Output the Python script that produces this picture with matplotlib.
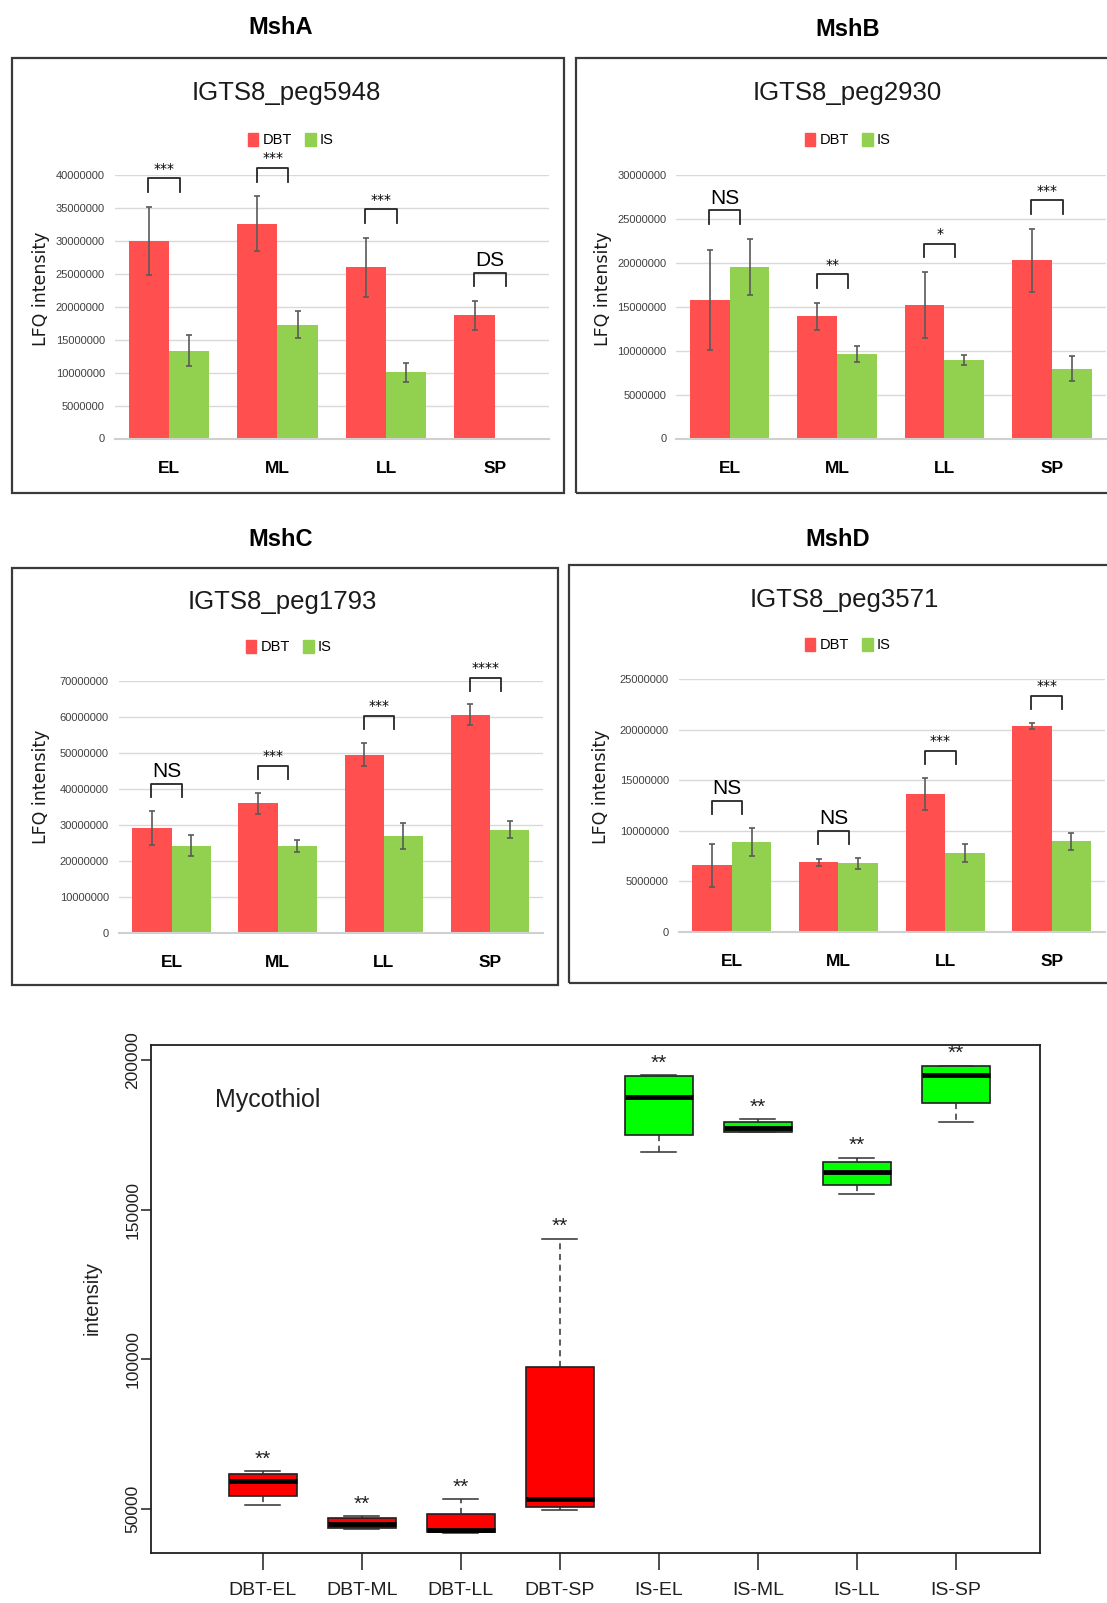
import numpy as np
import matplotlib.pyplot as plt
from matplotlib import font_manager
from matplotlib.patches import Rectangle, Patch
from matplotlib.ticker import FuncFormatter

names = {f.name for f in font_manager.fontManager.ttflist}
narrow = 'Liberation Sans Narrow' if 'Liberation Sans Narrow' in names else 'Liberation Sans'
plt.rcParams['font.family'] = ['Liberation Sans', 'DejaVu Sans']

W, H = 1107, 1603
RED = '#FF4F4F'
GREEN = '#92D050'

stages = ['EL', 'ML', 'LL', 'SP']

# MshA - IGTS8_peg5948
mshA_dbt = [30.0e6, 32.6e6, 26.0e6, 18.7e6]
mshA_dbt_err = [5.2e6, 4.2e6, 4.5e6, 2.2e6]
mshA_is = [13.3e6, 17.3e6, 10.05e6, 0]
mshA_is_err = [2.35e6, 2.1e6, 1.45e6, np.nan]
mshA_sig = ['***', '***', '***', 'DS']

# MshB - IGTS8_peg2930
mshB_dbt = [15.8e6, 13.93e6, 15.19e6, 20.29e6]
mshB_dbt_err = [5.7e6, 1.55e6, 3.8e6, 3.6e6]
mshB_is = [19.57e6, 9.63e6, 8.91e6, 7.96e6]
mshB_is_err = [3.2e6, 0.95e6, 0.55e6, 1.45e6]
mshB_sig = ['NS', '**', '*', '***']

# MshC - IGTS8_peg1793
mshC_dbt = [29.28e6, 36.0e6, 49.54e6, 60.68e6]
mshC_dbt_err = [4.7e6, 2.85e6, 3.2e6, 2.8e6]
mshC_is = [24.22e6, 24.22e6, 27.07e6, 28.73e6]
mshC_is_err = [2.95e6, 1.7e6, 3.6e6, 2.3e6]
mshC_sig = ['NS', '***', '***', '****']

# MshD - IGTS8_peg3571
mshD_dbt = [6.58e6, 6.875e6, 13.65e6, 20.36e6]
mshD_dbt_err = [2.1e6, 0.37e6, 1.6e6, 0.27e6]
mshD_is = [8.88e6, 6.78e6, 7.83e6, 8.95e6]
mshD_is_err = [1.4e6, 0.53e6, 0.9e6, 0.88e6]
mshD_sig = ['NS', 'NS', '***', '***']

# Mycothiol boxplot
box_groups = ['DBT-EL', 'DBT-ML', 'DBT-LL', 'DBT-SP', 'IS-EL', 'IS-ML', 'IS-LL', 'IS-SP']
box_whislo = [51100, 43300, 41840, 49630, 169080, 175880, 155350, 179220]
box_q1 = [54330, 43570, 42090, 50740, 175020, 175880, 158200, 185650]
box_med = [59260, 45050, 42830, 53340, 187760, 177250, 162650, 194930]
box_q3 = [61600, 47030, 48390, 97360, 194680, 179100, 165870, 198020]
box_whishi = [62490, 47530, 53210, 140150, 194930, 180210, 167230, 198140]
box_sig = ['**', '**', '**', '**', '**', '**', '**', '**']

fig = plt.figure(figsize=(W / 100, H / 100), dpi=100)


def rect(l, t, r, b):
    return [l / W, 1 - b / H, (r - l) / W, (b - t) / H]


def bar_panel(title, title_xy, subtitle, sub_xy, leg_xy, frame, ax_px, ymax, ystep,
              dbt, dbt_err, iss, iss_err, sig, ylab_xy):
    fl, ft, fr, fb = frame
    fig.add_artist(Rectangle((fl / W, 1 - fb / H), (fr - fl) / W, (fb - ft) / H,
                             transform=fig.transFigure, fill=False, ec='#3a3a3a', lw=1.6))
    fig.text(title_xy[0] / W, 1 - title_xy[1] / H, title, ha='center', va='center',
             fontsize=17, fontweight='bold')
    fig.text(sub_xy[0] / W, 1 - sub_xy[1] / H, subtitle, ha='center', va='center',
             fontsize=18.5, family=narrow, color='#1a1a1a')
    fig.text(ylab_xy[0] / W, 1 - ylab_xy[1] / H, 'LFQ intensity', ha='center', va='center',
             rotation=90, fontsize=12.5, family='DejaVu Sans', color='#1a1a1a')

    ax = fig.add_axes(rect(*ax_px))
    x = np.arange(len(stages))
    w = 0.37
    ekw = dict(ecolor='#5a5a5a', elinewidth=1.2, capsize=2.5, capthick=1.2)
    ax.bar(x - w / 2, dbt, w, color=RED, yerr=dbt_err, error_kw=ekw, label='DBT')
    ax.bar(x + w / 2, iss, w, color=GREEN, yerr=iss_err, error_kw=ekw, label='IS')

    ax.set_xlim(-0.5, len(stages) - 0.5)
    ax.set_ylim(0, ymax)
    ax.set_yticks(np.arange(0, ymax + 1, ystep))
    ax.yaxis.set_major_formatter(FuncFormatter(lambda v, p: f'{int(v)}'))
    ax.yaxis.grid(True, color='#D9D9D9', lw=1)
    ax.set_axisbelow(True)
    for s in ['top', 'right', 'left']:
        ax.spines[s].set_visible(False)
    ax.spines['bottom'].set_color('#D0D0D0')
    ax.spines['bottom'].set_linewidth(1.5)
    ax.tick_params(axis='y', length=0, pad=7, labelsize=8, labelcolor='#404040')
    ax.tick_params(axis='x', length=0, pad=16)
    ax.set_xticks(x)
    ax.set_xticklabels(stages, fontsize=12.5, fontweight='bold', family=narrow)

    tops = np.nanmax(np.vstack([np.array(dbt) + np.array(dbt_err),
                                np.array(iss) + np.array(iss_err)]), axis=0)
    for i, s in enumerate(sig):
        y0 = tops[i] + 0.055 * ymax
        y1 = y0 + 0.052 * ymax
        ax.plot([i - 0.19, i - 0.19, i + 0.10, i + 0.10], [y0, y1, y1, y0],
                color='#262626', lw=1.3, clip_on=False)
        star = '*' in s
        ax.annotate(s, (i - 0.045, y1), xytext=(0, 2), textcoords='offset points',
                    ha='center', va='bottom', fontsize=10 if star else 15,
                    family='DejaVu Sans' if star else 'Liberation Sans',
                    annotation_clip=False)

    fig.legend([Patch(color=RED), Patch(color=GREEN)], ['DBT', 'IS'], loc='center',
               bbox_to_anchor=(leg_xy[0] / W, 1 - leg_xy[1] / H), ncol=2, frameon=False,
               handlelength=0.7, handleheight=1.0, handletextpad=0.3, columnspacing=0.9,
               prop=dict(family=narrow, size=10.5))
    return ax


bar_panel('MshA', (281, 27), 'IGTS8_peg5948', (286, 93), (291, 140),
          (12, 58, 564, 493), (114.5, 175, 549, 438.5), 40e6, 5e6,
          mshA_dbt, mshA_dbt_err, mshA_is, mshA_is_err, mshA_sig, (41, 289))
bar_panel('MshB', (848, 29), 'IGTS8_peg2930', (847, 93), (848, 140),
          (575.5, 58, 1112, 493), (676, 175, 1105.5, 438.5), 30e6, 5e6,
          mshB_dbt, mshB_dbt_err, mshB_is, mshB_is_err, mshB_sig, (603, 289))
bar_panel('MshC', (281, 540), 'IGTS8_peg1793', (282, 602), (289, 647),
          (12, 568, 558, 985), (118.6, 681, 543, 933), 70e6, 10e6,
          mshC_dbt, mshC_dbt_err, mshC_is, mshC_is_err, mshC_sig, (41, 787))
bar_panel('MshD', (838, 540), 'IGTS8_peg3571', (844, 600), (848, 645),
          (569, 565, 1112, 983), (678.5, 679, 1105, 932), 25e6, 5e6,
          mshD_dbt, mshD_dbt_err, mshD_is, mshD_is_err, mshD_sig, (601, 787))

# bottom boxplot
ax = fig.add_axes(rect(151.3, 1044.7, 1039.6, 1552.7))
stats = [dict(label=g, whislo=a, q1=b, med=c, q3=d, whishi=e, fliers=[])
         for g, a, b, c, d, e in zip(box_groups, box_whislo, box_q1, box_med, box_q3, box_whishi)]
pos = np.arange(1, len(box_groups) + 1)
bp = ax.bxp(stats, positions=pos, widths=0.69, patch_artist=True, showfliers=False,
            capwidths=0.35,
            boxprops=dict(edgecolor='#202020', lw=1.2),
            medianprops=dict(color='black', lw=3.5),
            whiskerprops=dict(ls=(0, (4, 3)), color='#303030', lw=1.1),
            capprops=dict(color='#303030', lw=1.1))
for patch, g in zip(bp['boxes'], box_groups):
    patch.set_facecolor('#FF0000' if g.startswith('DBT') else '#00FF00')

ax.set_xlim(-0.125, 8.846)
ax.set_ylim(35300, 205100)
ax.set_yticks([50000, 100000, 150000, 200000])
ax.set_yticklabels(['50000', '100000', '150000', '200000'], rotation=90, va='center',
                   fontsize=12.5, color='#202020')
ax.set_xticks(pos)
ax.set_xticklabels(box_groups, fontsize=14, family=narrow, color='#202020')
for s in ax.spines.values():
    s.set_color('#202020')
    s.set_linewidth(1.3)
ax.tick_params(axis='both', direction='out', width=1.2, color='#303030')
ax.tick_params(axis='x', length=12, pad=9)
ax.tick_params(axis='y', length=7, pad=1)

for p, s, hi in zip(pos, box_sig, box_whishi):
    ax.annotate(s, (p, hi), xytext=(0, 2), textcoords='offset points', ha='center',
                va='bottom', fontsize=15, color='#202020')

ax.text(0.52, 186500, 'Mycothiol', fontsize=18, va='center', ha='left', family=narrow,
        color='#202020')
fig.text(92 / W, 1 - 1298 / H, 'intensity', rotation=90, ha='center', va='center',
         fontsize=14.5, color='#202020')

fig.savefig('out.png', dpi=100, facecolor='white')
